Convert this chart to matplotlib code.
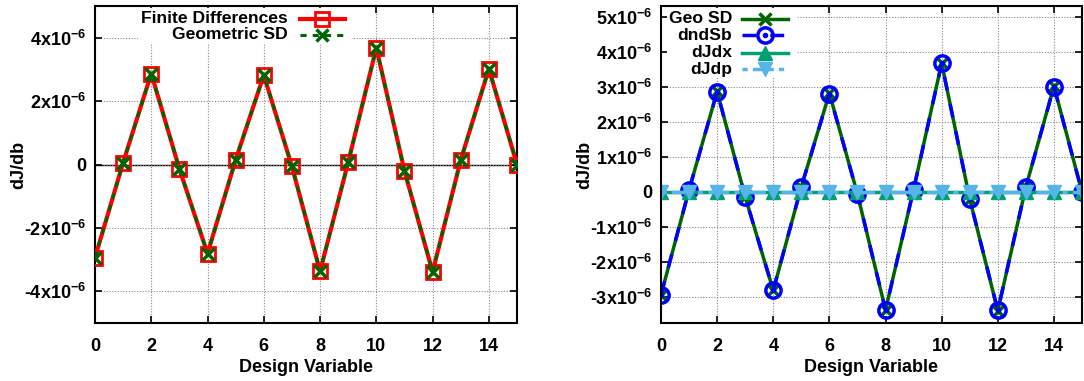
import numpy as np
import matplotlib
matplotlib.use('Agg')
import matplotlib.pyplot as plt
from matplotlib.patches import Rectangle
from matplotlib.ticker import FixedLocator, FuncFormatter

plt.rcParams['font.family'] = ['Liberation Sans', 'DejaVu Sans']
plt.rcParams['font.weight'] = 'bold'
plt.rcParams['mathtext.default'] = 'regular'
plt.rcParams['font.size'] = 13

design_var = np.arange(16)

# dJ/db for each design variable (units of 1e-6)
finite_diff = np.array([-2.94, 0.06, 2.87, -0.14, -2.81, 0.15, 2.82, -0.06,
                        -3.37, 0.07, 3.68, -0.20, -3.39, 0.14, 3.02, 0.00]) * 1e-6
geometric_sd = np.array([-2.94, 0.06, 2.87, -0.14, -2.81, 0.15, 2.82, -0.06,
                         -3.37, 0.07, 3.68, -0.20, -3.39, 0.14, 3.02, 0.00]) * 1e-6
dndsb = np.array([-2.93, 0.06, 2.86, -0.14, -2.80, 0.15, 2.81, -0.06,
                  -3.37, 0.07, 3.67, -0.20, -3.38, 0.14, 3.01, 0.00]) * 1e-6
djdx = np.zeros(16)
djdp = np.zeros(16)

left_yticks = [-4e-6, -2e-6, 0, 2e-6, 4e-6]
right_yticks = [-3e-6, -2e-6, -1e-6, 0, 1e-6, 2e-6, 3e-6, 4e-6, 5e-6]
xticks = [0, 2, 4, 6, 8, 10, 12, 14]

RED = '#ff0000'
DKGREEN = '#006400'
BLUE = '#0000ff'
TEAL = '#009e73'
SKY = '#56b4e9'


def sci_fmt(v, pos):
    if abs(v) < 1e-12:
        return '0'
    m = int(round(v / 1e-6))
    return '%dx10$^{-6}$' % m


def style_axes(ax, yticks, ylim):
    ax.set_xlim(0, 15)
    ax.set_ylim(*ylim)
    ax.xaxis.set_major_locator(FixedLocator(xticks))
    ax.yaxis.set_major_locator(FixedLocator(yticks))
    ax.yaxis.set_major_formatter(FuncFormatter(sci_fmt))
    ax.tick_params(direction='in', length=5, width=1.2, top=True, right=True,
                   labelsize=13, pad=6)
    ax.tick_params(axis='x', pad=11)
    ax.grid(True, color='#888888', linestyle=(0, (1, 1.5)), linewidth=0.8)
    ax.axhline(0, color='black', linewidth=1.0, zorder=1.5)
    for s in ax.spines.values():
        s.set_linewidth(1.5)
    ax.set_xlabel('Design Variable', fontsize=13, fontweight='bold', labelpad=3)
    ax.set_ylabel('dJ/db', fontsize=13, fontweight='bold', labelpad=-2)


def key_box(ax, x0, y0, x1, y1):
    # opaque background behind the key, hides the grid
    ax.add_patch(Rectangle((x0, y0), x1 - x0, y1 - y0, transform=ax.transAxes,
                           facecolor='white', edgecolor='none', zorder=2))


def key_entry(ax, x_text, x0, x1, y, label, **kw):
    ax.text(x_text, y, label, transform=ax.transAxes, ha='right', va='center',
            fontsize=12.6, fontweight='bold', zorder=10)
    ax.plot([x0, x1], [y, y], transform=ax.transAxes, clip_on=False, zorder=10,
            **{k: v for k, v in kw.items() if not k.startswith('marker')})
    ax.plot([(x0 + x1) / 2], [y], transform=ax.transAxes, clip_on=False,
            linestyle='none', zorder=11,
            **{k: v for k, v in kw.items() if k.startswith('marker')})


fig = plt.figure(figsize=(10.84, 3.81), dpi=100)
W, H = 1084.0, 381.0
ax1 = fig.add_axes([95 / W, 58 / H, 422 / W, 317 / H])
ax2 = fig.add_axes([661 / W, 58 / H, 421 / W, 317 / H])

# left panel
style_axes(ax1, left_yticks, (-5e-6, 5e-6))
fd_style = dict(color=RED, linewidth=3, marker='s', markersize=10,
                markerfacecolor='none', markeredgecolor=RED, markeredgewidth=2)
gsd_style = dict(color=DKGREEN, linewidth=2.2, dashes=(2, 2), marker='x',
                 markersize=8, markeredgecolor=DKGREEN, markeredgewidth=2.5)
ax1.plot(design_var, finite_diff, zorder=3, **fd_style)
ax1.plot(design_var, geometric_sd, zorder=4, **gsd_style)
key_box(ax1, 0.102, 0.88, 0.609, 0.995)
key_entry(ax1, 0.457, 0.486, 0.592, 0.959, 'Finite Differences', **fd_style)
key_entry(ax1, 0.457, 0.486, 0.592, 0.909, 'Geometric SD', **gsd_style)

# right panel
style_axes(ax2, right_yticks, (-3.74e-6, 5.31e-6))
geo_style = dict(color=DKGREEN, linewidth=2.5, marker='x', markersize=8,
                 markeredgecolor=DKGREEN, markeredgewidth=2.5)
dnd_style = dict(color=BLUE, linewidth=2.5, dashes=(4, 4), marker='o',
                 markersize=11, markerfacecolor='none', markeredgecolor=BLUE,
                 markeredgewidth=2.5)
dot_style = dict(linestyle='none', marker='o', markersize=3, color=BLUE)
djdx_style = dict(color=TEAL, linewidth=2.5, marker='^', markersize=10,
                  markerfacecolor=TEAL, markeredgecolor=TEAL)
djdp_style = dict(color=SKY, linewidth=2.5, dashes=(1.5, 1.5, 6, 1.5), marker='v',
                  markersize=10, markerfacecolor=SKY, markeredgecolor=SKY)
ax2.plot(design_var, geometric_sd, zorder=3, **geo_style)
ax2.plot(design_var, dndsb, zorder=4, **dnd_style)
ax2.plot(design_var, dndsb, zorder=4.1, **dot_style)
ax2.plot(design_var, djdx, zorder=5, **djdx_style)
ax2.plot(design_var, djdp, zorder=6, **djdp_style)
for spine in ax2.spines.values():
    spine.set_zorder(7)

rows = [0.959, 0.907, 0.853, 0.800]
key_box(ax2, 0.014, 0.773, 0.323, 0.995)
key_entry(ax2, 0.169, 0.193, 0.302, rows[0], 'Geo SD', **geo_style)
key_entry(ax2, 0.169, 0.193, 0.302, rows[1], 'dndSb', **dnd_style)
ax2.plot([0.2475], [rows[1]], transform=ax2.transAxes, clip_on=False, zorder=12,
         **dot_style)
key_entry(ax2, 0.169, 0.193, 0.302, rows[2], 'dJdx', **djdx_style)
key_entry(ax2, 0.169, 0.193, 0.302, rows[3], 'dJdp', **djdp_style)

fig.savefig('out.png', dpi=100)
